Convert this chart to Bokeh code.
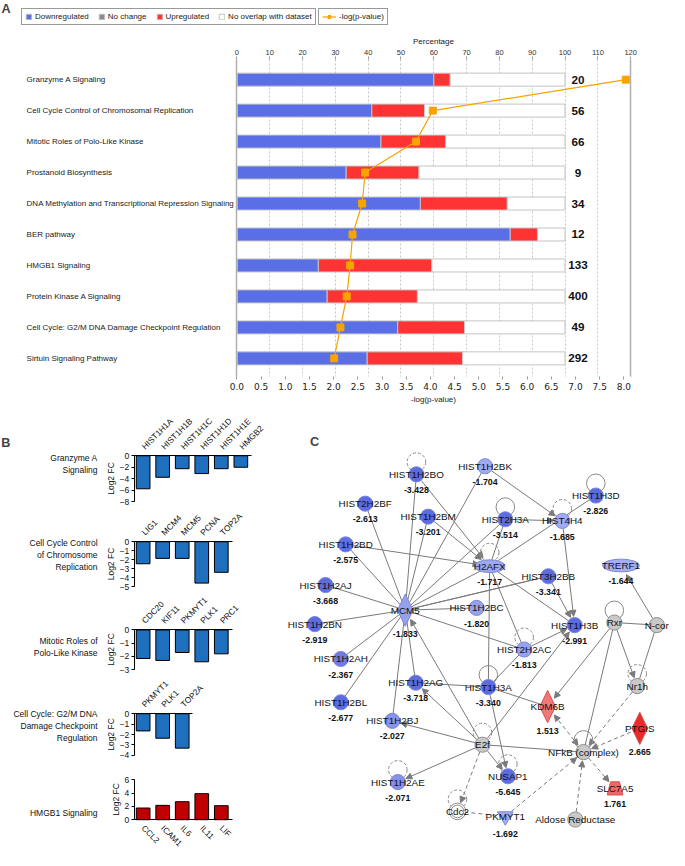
import math
from bokeh.plotting import figure
from bokeh.models import (ColumnDataSource, Range1d, LinearAxis, FixedTicker, SingleIntervalTicker,
                          PrintfTickFormatter, LabelSet, Label, Legend, LegendItem, Arrow, NormalHead,
                          Grid)
from bokeh.layouts import column, row
from bokeh.embed import file_html
from bokeh.resources import INLINE
from bokeh.core.properties import value

S = 0.977  # reference px -> page px
FONT = "Liberation Sans"

# ---------------- Panel A data ----------------
pathways = ["Granzyme A Signaling",
            "Cell Cycle Control of Chromosomal Replication",
            "Mitotic Roles of Polo-Like Kinase",
            "Prostanoid Biosynthesis",
            "DNA Methylation and Transcriptional Repression Signaling",
            "BER pathway",
            "HMGB1 Signaling",
            "Protein Kinase A Signaling",
            "Cell Cycle: G2/M DNA Damage Checkpoint Regulation",
            "Sirtuin Signaling Pathway"]
pct_down = [60.0, 41.1, 43.9, 33.3, 55.9, 83.3, 24.8, 27.5, 49.0, 39.7]
pct_up = [5.0, 16.1, 19.7, 22.2, 26.5, 8.3, 34.6, 27.5, 20.4, 29.1]
gene_totals = [20, 56, 66, 9, 34, 12, 133, 400, 49, 292]
neg_log_p = [8.04, 4.05, 3.70, 2.65, 2.59, 2.39, 2.34, 2.27, 2.14, 2.01]

# ---------------- Panel B data ----------------
granzyme_genes = ["HIST1H1A", "HIST1H1B", "HIST1H1C", "HIST1H1D", "HIST1H1E", "HMGB2"]
granzyme_fc = [-5.75, -3.75, -2.25, -3.1, -2.25, -2.0]
ccr_genes = ["LIG1", "MCM4", "MCM5", "PCNA", "TOP2A"]
ccr_fc = [-2.45, -1.85, -1.85, -4.6, -3.4]
plk_genes = ["CDC20", "KIF11", "PKMYT1", "PLK1", "PRC1"]
plk_fc = [-2.15, -2.3, -1.7, -2.4, -1.8]
g2m_genes = ["PKMYT1", "PLK1", "TOP2A"]
g2m_fc = [-1.65, -2.35, -3.3]
hmgb1_genes = ["CCL2", "ICAM1", "IL6", "IL11", "LIF"]
hmgb1_fc = [1.75, 2.15, 2.7, 3.9, 2.1]

# ---------------- Panel C data (network layout) ----------------
node_names = ["HIST1H2BO", "HIST1H2BK", "HIST1H3D", "HIST2H2BF", "HIST1H2BM", "HIST2H3A", "HIST4H4",
              "HIST1H2BD", "H2AFX", "TRERF1", "HIST3H2BB", "HIST1H2AJ", "MCM5", "HIST1H2BN",
              "HIST1H2BC", "HIST1H3B", "Rxr", "N-cor", "HIST2H2AC", "HIST1H2AH", "Nr1h",
              "HIST1H2AG", "HIST1H3A", "HIST1H2BL", "KDM6B", "HIST1H2BJ", "PTGIS", "E2f",
              "NFkB (complex)", "HIST1H2AE", "NUSAP1", "SLC7A5", "Cdc2", "PKMYT1", "Aldose Reductase"]
node_x = [425.7, 496.0, 609.3, 373.3, 437.7, 516.7, 575.0,
          353.3, 500.7, 635.0, 560.7, 332.7, 414.3, 321.7,
          487.3, 587.7, 628.3, 671.7, 536.0, 348.3, 651.7,
          425.0, 499.3, 348.3, 560.0, 401.0, 654.3, 493.3,
          596.7, 406.7, 519.3, 629.0, 467.7, 516.7, 588.3]
node_y = [485.0, 476.7, 506.7, 515.0, 528.3, 531.0, 532.7,
          556.7, 579.0, 578.3, 589.3, 598.3, 624.0, 638.3,
          621.7, 639.3, 636.7, 639.3, 664.3, 674.0, 701.7,
          698.3, 702.7, 718.3, 722.7, 737.3, 745.0, 761.7,
          769.3, 800.0, 794.0, 806.7, 830.0, 835.0, 838.3]
node_shape = ["circle", "circle", "circle", "circle", "circle", "circle", "circle",
              "circle", "ellipse", "ellipse", "circle", "circle", "diamond", "circle",
              "circle", "circle", "circle", "circle", "circle", "circle", "circle",
              "circle", "circle", "circle", "diamond", "circle", "diamond", "circle",
              "circle", "circle", "circle", "trapezoid", "open", "inv_triangle", "circle"]
node_value = [-3.428, -1.704, -2.826, -2.613, -3.201, -3.514, -1.685,
              -2.575, -1.717, -1.644, -3.341, -3.668, -1.833, -2.919,
              -1.820, -2.991, None, None, -1.813, -2.367, None,
              -3.718, -3.340, -2.677, 1.513, -2.027, 2.665, None,
              None, -2.071, -5.645, 1.761, None, -1.692, None]
node_loop = ["dashed", None, "solid", None, None, "solid", "dashed",
             None, "dashed", None, None, None, None, None,
             None, None, "solid", None, "dashed", None, "dashed",
             None, "solid", None, None, None, None, "dashed",
             "solid", "dashed", "dashed", None, "dashed", None, None]
edge_from = ["MCM5"] * 16 + [
    "E2f", "HIST1H2BO", "HIST1H2BM", "HIST1H2BD", "HIST1H2BK", "HIST2H3A", "HIST2H3A",
    "HIST1H3D", "HIST4H4", "H2AFX", "H2AFX", "H2AFX", "HIST3H2BB", "HIST3H2BB",
    "HIST2H2AC", "HIST2H2AC", "HIST1H2AG", "E2f", "HIST1H3A", "HIST1H3A", "E2f",
    "E2f", "E2f", "E2f", "E2f", "E2f", "Cdc2", "PKMYT1", "Aldose Reductase",
    "Rxr", "Rxr", "Rxr", "Rxr", "N-cor", "N-cor", "KDM6B", "Nr1h", "PTGIS", "NFkB (complex)"]
edge_to = ["HIST1H2BO", "HIST1H2BK", "HIST2H2BF", "HIST1H2BM", "HIST1H2BD", "HIST1H2AJ",
           "HIST2H3A", "H2AFX", "HIST3H2BB", "HIST1H2BN", "HIST1H2BC", "HIST2H2AC",
           "HIST1H2AH", "HIST1H2BL", "HIST1H2BJ", "HIST1H2AG"] + [
    "MCM5", "H2AFX", "H2AFX", "H2AFX", "HIST4H4", "HIST4H4", "H2AFX",
    "H2AFX", "HIST1H3B", "HIST1H3B", "HIST1H3A", "HIST2H2AC", "HIST1H3B", "MCM5",
    "HIST1H3B", "HIST1H3A", "HIST1H3A", "HIST1H2AG", "KDM6B", "NUSAP1", "HIST1H3B",
    "HIST1H2BJ", "NFkB (complex)", "HIST1H2AE", "NUSAP1", "Cdc2", "PKMYT1", "NFkB (complex)", "NFkB (complex)",
    "KDM6B", "NFkB (complex)", "Nr1h", "N-cor", "Nr1h", "TRERF1", "NFkB (complex)", "NFkB (complex)",
    "NFkB (complex)", "SLC7A5"]
edge_dash = [False] * 16 + [
    False, False, False, False, False, False, False,
    False, False, False, False, False, False, False,
    False, False, False, False, False, False, False,
    False, False, False, False, True, True, True, True,
    False, False, False, False, False, False, True, True, True, True]
edge_head = ["none"] * 16 + [
    "end", "end", "end", "end", "end", "end", "none",
    "none", "end", "none", "none", "none", "end", "none",
    "end", "none", "none", "end", "none", "end", "end",
    "end", "none", "end", "end", "end", "none", "end", "end",
    "end", "none", "end", "none", "none", "end", "both", "end", "end", "end"]

# ---------------- colours ----------------
BLUE_A = "#5a6ee6"
RED_A = "#fe3434"
ORANGE = "#f6a400"
EDGE_A = "#c4c4c4"
BLUE_B = "#1f6fbf"
RED_B = "#c00000"
GREY_LINE = "#7a7a7a"
TXT = "#111111"

W = 669

# =============== PANEL A ===============
PX_PER_PCT = 403.0 / 120.0
PVAL_PER_PCT = 8.14 / 120.0
ROW0_Y, ROW_STEP = 81.0, 31.7
FR_TOP, FR_BOT, FR_LEFT = 60.0, 385.0, 242.0
A_H = 408


def pct_at(xref):
    return (xref - FR_LEFT) / PX_PER_PCT


def row_at(yref):
    return (yref - ROW0_Y) / ROW_STEP


rows = list(range(len(pathways)))
upper = [d + u for d, u in zip(pct_down, pct_up)]
srcA = ColumnDataSource(dict(row=rows, name=pathways, down=pct_down, upper=upper,
                             full=[100.0] * len(rows), zero=[0.0] * len(rows),
                             total=[str(t) for t in gene_totals], p=neg_log_p))

x_lo, x_hi = pct_at(0), pct_at(W / S)
pa = figure(width=W, height=A_H, x_range=Range1d(x_lo, x_hi),
            y_range=Range1d(row_at(A_H / S), row_at(0)),
            x_axis_type=None, y_axis_type=None, min_border=0, output_backend="svg",
            toolbar_location=None, outline_line_color=None)
pa.extra_x_ranges = {"pval": Range1d(x_lo * PVAL_PER_PCT, x_hi * PVAL_PER_PCT)}
y_top, y_bot = row_at(FR_TOP), row_at(FR_BOT)

pa.add_layout(Grid(dimension=0, ticker=SingleIntervalTicker(interval=10, num_minor_ticks=0),
                   bounds=(0, 120), cross_bounds=(y_top, y_bot), grid_line_color="#c6c6c6",
                   grid_line_dash="2 2", grid_line_width=1))

ax = LinearAxis(fixed_location=y_top, bounds=(0, 120),
                ticker=SingleIntervalTicker(interval=10, num_minor_ticks=0),
                axis_label="Percentage")
ax.axis_label_text_font = FONT
ax.axis_label_text_font_size = "8px"
ax.axis_label_text_font_style = "normal"
ax.axis_label_text_color = "#222222"
ax.axis_label_standoff = 2
ax.major_label_text_font = FONT
ax.major_label_text_font_size = "7.5px"
ax.major_label_text_color = "#333333"
ax.major_label_standoff = 1
ax.major_tick_out = 3
ax.major_tick_in = 0
ax.major_tick_line_color = "#9a9a9a"
ax.minor_tick_line_color = None
ax.axis_line_color = None
pa.add_layout(ax, "above")

bax = LinearAxis(x_range_name="pval", fixed_location=y_bot, bounds=(0, 120 * PVAL_PER_PCT),
                 ticker=SingleIntervalTicker(interval=0.5, num_minor_ticks=0),
                 formatter=PrintfTickFormatter(format="%.1f"), axis_label="-log(p-value)")
bax.axis_label_text_font = FONT
bax.axis_label_text_font_size = "8px"
bax.axis_label_text_font_style = "normal"
bax.axis_label_text_color = "#222222"
bax.axis_label_standoff = 2
bax.major_label_text_font = "DejaVu Sans"
bax.major_label_text_font_size = "9px"
bax.major_label_text_color = "#222222"
bax.major_label_standoff = 3
bax.major_tick_out = 3
bax.major_tick_in = 0
bax.major_tick_line_color = "#9a9a9a"
bax.minor_tick_line_color = None
bax.axis_line_color = None
pa.add_layout(bax, "below")

for loc, side in ((0, "left"), (120, "right")):
    pa.add_layout(LinearAxis(fixed_location=loc, bounds=(y_top, y_bot), ticker=FixedTicker(ticks=[]),
                             major_label_text_font_size="0px", axis_line_color="#b0b0b0",
                             axis_line_width=1.5), side)

BAR_H = 0.42
r_down = pa.hbar(y="row", left=0, right="down", height=BAR_H, source=srcA,
                 fill_color=BLUE_A, line_color=EDGE_A, line_width=1)
r_up = pa.hbar(y="row", left="down", right="upper", height=BAR_H, source=srcA,
               fill_color=RED_A, line_color=EDGE_A, line_width=1)
r_none = pa.hbar(y="row", left="upper", right="full", height=BAR_H, source=srcA,
                 fill_color="white", line_color=EDGE_A, line_width=1)
# "No change" category: zero-width segments (no gene is unchanged)
r_nc = pa.hbar(y="row", left="zero", right="zero", height=BAR_H, source=srcA,
               fill_color="#8c8c8c", line_color=EDGE_A, line_width=1)
r_line = pa.line(x="p", y="row", source=srcA, x_range_name="pval", line_color=ORANGE, line_width=1.2)
r_pts = pa.scatter(x="p", y="row", source=srcA, x_range_name="pval", marker="square", size=7,
                   fill_color=ORANGE, line_color=ORANGE)

pa.add_layout(LabelSet(x=pct_at(26.7), y="row", text="name", source=srcA,
                       text_align="left", text_baseline="middle", text_font=value(FONT),
                       text_font_size=value("8px"), text_color="#1a1a1a"))
pa.add_layout(LabelSet(x=pct_at(591), y="row", text="total", source=srcA,
                       text_align="center", text_baseline="middle", text_font=value(FONT),
                       text_font_size=value("11.7px"), text_font_style="bold", text_color=TXT))

leg_common = dict(orientation="horizontal", label_text_font=FONT, label_text_font_size="8px",
                  label_text_color="#222222", label_standoff=3, spacing=9, padding=3, margin=0,
                  label_height=8, glyph_height=7, border_line_color="#333333",
                  border_line_width=1, background_fill_alpha=1.0)
leg1 = Legend(items=[LegendItem(label="Downregulated", renderers=[r_down]),
                     LegendItem(label="No change", renderers=[r_nc]),
                     LegendItem(label="Upregulated", renderers=[r_up]),
                     LegendItem(label="No overlap with dataset", renderers=[r_none])],
              location=(round(22 * S), round((A_H / S - 26) * S)), glyph_width=7,
              **leg_common)
leg2 = Legend(items=[LegendItem(label="-log(p-value)", renderers=[r_line, r_pts])],
              location=(round(325 * S), round((A_H / S - 26) * S)), glyph_width=14,
              **leg_common)
pa.add_layout(leg1)
pa.add_layout(leg2)
pa.add_layout(Label(x=1 * S, y=A_H - 1.5 * S, x_units="screen", y_units="screen",
                    text="A", text_baseline="top", text_font=FONT, text_font_size="12.7px",
                    text_font_style="bold"))

# =============== PANEL B ===============
B_W = 283
BAR0_X, BAR_STEP = 146.0, 20.0


def bar_panel(genes, fc, ticks, ref_top, height, ref_zero, ppu, title, title_top, color, above,
              extra_label=None):
    n = len(genes)
    ref_bot = ref_top + height / S
    p = figure(width=B_W, height=height,
               x_range=Range1d((0 - BAR0_X) / BAR_STEP, (B_W / S - BAR0_X) / BAR_STEP),
               y_range=Range1d(-(ref_bot - ref_zero) / ppu, (ref_zero - ref_top) / ppu),
               x_axis_type=None, y_axis_type=None, min_border=0, outline_line_color=None,
               toolbar_location=None, output_backend="svg")
    src = ColumnDataSource(dict(x=list(range(n)), fc=fc))
    p.vbar(x="x", top="fc", bottom=0, width=0.7, source=src, fill_color=color,
           line_color="black", line_width=1)
    yax = LinearAxis(fixed_location=-0.45, bounds=(min(ticks), max(ticks)),
                     ticker=FixedTicker(ticks=ticks), axis_label="Log2 FC")
    yax.axis_label_text_font = FONT
    yax.axis_label_text_font_size = "8.5px"
    yax.axis_label_text_font_style = "normal"
    yax.axis_label_text_color = TXT
    yax.axis_label_standoff = 1
    yax.major_label_text_font = FONT
    yax.major_label_text_font_size = "8.5px"
    yax.major_label_text_color = TXT
    yax.major_label_standoff = 2
    yax.major_tick_out = 3
    yax.major_tick_in = 0
    yax.minor_tick_line_color = None
    yax.axis_line_color = "black"
    yax.major_tick_line_color = "black"
    p.add_layout(yax, "left")
    xax = LinearAxis(fixed_location=0, bounds=(-0.45, n - 0.45),
                     ticker=FixedTicker(ticks=list(range(n))),
                     major_label_overrides={i: g for i, g in enumerate(genes)},
                     major_label_orientation=(math.pi / 4 if above else -math.pi / 4))
    xax.major_label_text_font = FONT
    xax.major_label_text_font_size = "8.3px"
    xax.major_label_text_color = TXT
    xax.major_label_standoff = 2 if above else 1
    xax.major_tick_line_color = None
    xax.minor_tick_line_color = None
    xax.axis_line_color = "black"
    p.add_layout(xax, "above" if above else "below")
    p.add_layout(Label(x=99.3 * S, y=(ref_bot - title_top) * S, x_units="screen", y_units="screen",
                       text=title, text_align="right", text_baseline="top", text_font=FONT,
                       text_font_size="8.5px", text_line_height=1.2, text_color=TXT))
    if extra_label:
        p.add_layout(Label(x=0.7 * S, y=(ref_bot - extra_label[1]) * S, x_units="screen",
                           y_units="screen", text=extra_label[0], text_baseline="top",
                           text_font=FONT, text_font_size="12.7px", text_font_style="bold"))
    return p, ref_bot


top = A_H / S
b1, top = bar_panel(granzyme_genes, granzyme_fc, [0, -2, -4, -6, -8], top, 101, 466, 47 / 8,
                    "Granzyme A\nSignaling", 463, BLUE_B, True, ("B", 445.5))
b2, top = bar_panel(ccr_genes, ccr_fc, [0, -1, -2, -3, -4, -5], top, 84, 554, 46 / 5,
                    "Cell Cycle Control\nof Chromosome\nReplication", 550, BLUE_B, True)
b3, top = bar_panel(plk_genes, plk_fc, [0, -1, -2, -3], top, 85, 644.3, 40.7 / 3,
                    "Mitotic Roles of\nPolo-Like Kinase", 650, BLUE_B, True)
b4, top = bar_panel(g2m_genes, g2m_fc, [0, -1, -2, -3, -4], top, 92, 730, 42.7 / 4,
                    "Cell Cycle: G2/M DNA\nDamage Checkpoint\nRegulation", 725, BLUE_B, True)
b5, top = bar_panel(hmgb1_genes, hmgb1_fc, [0, 2, 4, 6], top, 80, 838.5, 41 / 6,
                    "HMGB1 Signaling", 826, RED_B, False)

# =============== PANEL C ===============
C_W, C_H = W - B_W, 442
C_X0, C_Y0 = B_W / S, A_H / S
pc = figure(width=C_W, height=C_H, x_range=Range1d(C_X0, C_X0 + C_W / S),
            y_range=Range1d(C_Y0 + C_H / S, C_Y0), x_axis_type=None, y_axis_type=None,
            min_border=0, outline_line_color=None, toolbar_location=None, output_backend="svg")

pos = {n: (x, y) for n, x, y in zip(node_names, node_x, node_y)}
shape_of = dict(zip(node_names, node_shape))
RADIUS = {"circle": 8.0, "ellipse": 10.0, "diamond": 10.0, "trapezoid": 8.5, "open": 8.5,
          "inv_triangle": 8.0}


def node_color(v, shape):
    if v is None:
        return "white" if shape == "open" else "#c9c9c9"
    if v < 0:
        t = min(max((abs(v) - 1.6) / 1.0, 0.0), 1.0)
        a, b = (168, 177, 243), (92, 107, 222)
    else:
        t = min(max((v - 1.4) / 1.2, 0.0), 1.0)
        a, b = (242, 128, 128), (232, 44, 44)
    c = [round(a[i] + (b[i] - a[i]) * t) for i in range(3)]
    return "#%02x%02x%02x" % tuple(c)


def node_line(v):
    if v is None:
        return "#8f8f8f"
    return "#7d88d8" if v < 0 else "#d85050"


seg = {k: dict(x0=[], y0=[], x1=[], y1=[]) for k in ("solid", "dashed")}
arr = {(d, h): dict(x0=[], y0=[], x1=[], y1=[]) for d in ("solid", "dashed") for h in ("end", "both")}
for a, b, dsh, hd in zip(edge_from, edge_to, edge_dash, edge_head):
    (xa, ya), (xb, yb) = pos[a], pos[b]
    L = math.hypot(xb - xa, yb - ya)
    ux, uy = (xb - xa) / L, (yb - ya) / L
    ra, rb = RADIUS[shape_of[a]], RADIUS[shape_of[b]]
    if hd == "none":
        d = seg["dashed" if dsh else "solid"]
        ra, rb = 0, 0
    else:
        d = arr[("dashed" if dsh else "solid", hd)]
        rb += 1
        if hd == "both":
            ra += 1
    d["x0"].append(xa + ux * ra)
    d["y0"].append(ya + uy * ra)
    d["x1"].append(xb - ux * rb)
    d["y1"].append(yb - uy * rb)

pc.segment(x0="x0", y0="y0", x1="x1", y1="y1", source=ColumnDataSource(seg["solid"]),
           line_color=GREY_LINE, line_width=1)
pc.segment(x0="x0", y0="y0", x1="x1", y1="y1", source=ColumnDataSource(seg["dashed"]),
           line_color=GREY_LINE, line_width=1, line_dash="4 3")
for (dsh, hd), d in arr.items():
    if not d["x0"]:
        continue
    kw = dict(line_color=GREY_LINE, line_width=1)
    if dsh == "dashed":
        kw["line_dash"] = "4 3"
    head = NormalHead(size=6, fill_color=GREY_LINE, line_color=GREY_LINE, line_width=1)
    a_ = Arrow(x_start="x0", y_start="y0", x_end="x1", y_end="y1", source=ColumnDataSource(d),
               end=head, start=(NormalHead(size=6, fill_color=GREY_LINE, line_color=GREY_LINE,
                                           line_width=1) if hd == "both" else None),
               level="underlay", **kw)
    pc.add_layout(a_)

for style in ("solid", "dashed"):
    lx = [x for x, l in zip(node_x, node_loop) if l == style]
    ly = [y - (14 if s == "ellipse" else 12.5) for y, l, s in zip(node_y, node_loop, node_shape) if l == style]
    kw = dict(line_dash="3 2") if style == "dashed" else {}
    pc.circle(x=lx, y=ly, radius=9.5, fill_color=None, line_color="#8a8a8a", line_width=1, **kw)

fills = [node_color(v, s) for v, s in zip(node_value, node_shape)]
lines = [node_line(v) for v in node_value]
circ = [i for i, s in enumerate(node_shape) if s == "circle"]
pc.scatter(x=[node_x[i] for i in circ], y=[node_y[i] for i in circ], marker="circle", size=15.5 * S,
           fill_color=[fills[i] for i in circ], line_color=[lines[i] for i in circ], line_width=1)
ell = [i for i, s in enumerate(node_shape) if s == "ellipse"]
pc.ellipse(x=[node_x[i] for i in ell], y=[node_y[i] for i in ell],
           width=[len(node_names[i]) * 6.3 for i in ell], height=13,
           fill_color=[fills[i] for i in ell], line_color=[lines[i] for i in ell], line_width=1)
dia = [i for i, s in enumerate(node_shape) if s == "diamond"]
pc.patches(xs=[[node_x[i], node_x[i] + 8, node_x[i], node_x[i] - 8] for i in dia],
           ys=[[node_y[i] - 16.5, node_y[i], node_y[i] + 16.5, node_y[i]] for i in dia],
           fill_color=[fills[i] for i in dia], line_color=[lines[i] for i in dia], line_width=1)
trap = [i for i, s in enumerate(node_shape) if s == "trapezoid"]
pc.patches(xs=[[node_x[i] - 4.5, node_x[i] + 4.5, node_x[i] + 8, node_x[i] - 8] for i in trap],
           ys=[[node_y[i] - 7, node_y[i] - 7, node_y[i] + 6.5, node_y[i] + 6.5] for i in trap],
           fill_color=[fills[i] for i in trap], line_color=[lines[i] for i in trap], line_width=1)
tri = [i for i, s in enumerate(node_shape) if s == "inv_triangle"]
pc.scatter(x=[node_x[i] for i in tri], y=[node_y[i] for i in tri], marker="inverted_triangle",
           size=16 * S, fill_color=[fills[i] for i in tri], line_color=[lines[i] for i in tri])
opn = [i for i, s in enumerate(node_shape) if s == "open"]
pc.scatter(x=[node_x[i] for i in opn], y=[node_y[i] for i in opn], marker="circle", size=17 * S,
           fill_color="white", line_color="#8f8f8f", line_width=1)
pc.scatter(x=[node_x[i] for i in opn], y=[node_y[i] for i in opn], marker="circle", size=13 * S,
           fill_color="white", line_color="#8f8f8f", line_width=1)

pc.text(x=node_x, y=node_y, text=node_names, text_align="center", text_baseline="middle",
        text_font=value(FONT), text_font_size=value("9.9px"), text_color=TXT)
VAL_OFF = {"circle": 16, "ellipse": 16, "diamond": 24.5, "trapezoid": 15.6, "inv_triangle": 18.5,
           "open": 16}
vi = [i for i, v in enumerate(node_value) if v is not None]
pc.text(x=[node_x[i] for i in vi], y=[node_y[i] + VAL_OFF[node_shape[i]] for i in vi],
        text=["%.3f" % node_value[i] for i in vi], text_align="center", text_baseline="middle",
        text_font=value(FONT), text_font_size=value("8.8px"), text_font_style="bold",
        text_color=TXT)
pc.add_layout(Label(x=(316.7 - C_X0) * S, y=C_H - (445 - C_Y0) * S, x_units="screen",
                    y_units="screen", text="C", text_baseline="top", text_font=FONT,
                    text_font_size="12.7px", text_font_style="bold"))

layout = column(pa, row(column(b1, b2, b3, b4, b5), pc))
open("out.html", "w").write(file_html(layout, INLINE))
